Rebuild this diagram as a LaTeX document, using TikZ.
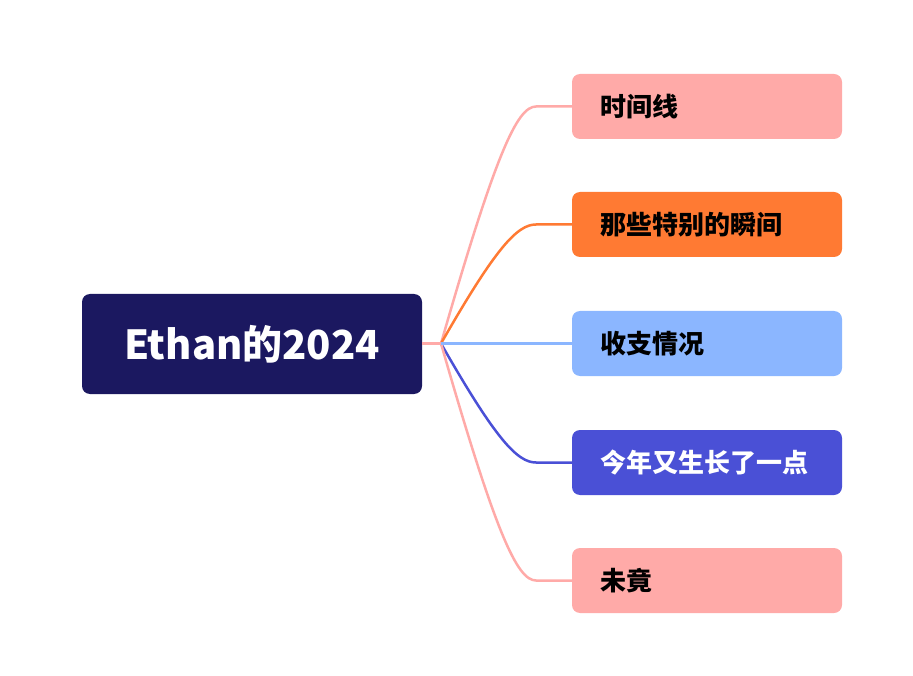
\documentclass[tikz,border=0pt]{standalone}
\usepackage{fontspec}
\setmainfont{Noto Sans CJK SC}
\usetikzlibrary{calc}
\definecolor{navy}{HTML}{1B1860}
\definecolor{pinkc}{HTML}{FFAAA8}
\definecolor{orangec}{HTML}{FF7A33}
\definecolor{bluec}{HTML}{8BB6FF}
\definecolor{indigoc}{HTML}{4A50D6}
\tikzset{
  rootbox/.style={fill=navy, rounded corners=8pt, minimum width=340pt, minimum height=100pt, inner sep=0pt,
    text=white, font=\fontsize{40pt}{46pt}\selectfont\bfseries},
  childbox/.style={rounded corners=8pt, minimum height=65pt, text width=214pt, inner xsep=28pt, inner ysep=0pt,
    align=left, font=\fontsize{26pt}{30pt}\selectfont\bfseries},
  conn/.style={line width=2.5pt},
}
\begin{document}
\begin{tikzpicture}[x=1pt,y=-1pt]
\useasboundingbox (0,0) rectangle (913,676);
\node[rootbox] (root) at (252,344) {Ethan的2024};
\node[childbox, fill=pinkc] (b1) at (707,106.5) {时间线};
\node[childbox, fill=orangec] (b2) at (707,224.5) {那些特别的瞬间};
\node[childbox, fill=bluec] (b3) at (707,343.5) {收支情况};
\node[childbox, fill=indigoc, text=white] (b4) at (707,462.5) {今年又生长了一点};
\node[childbox, fill=pinkc] (b5) at (707,580.5) {未竟};
\coordinate (J) at (441,343.5);
\foreach \i/\c in {1/pinkc,2/orangec,4/indigoc,5/pinkc}{
  \coordinate (C\i) at (509,0 |- b\i.west);
  \coordinate (E\i) at (536,0 |- b\i.west);
  \draw[conn, \c] (J) .. controls ($(J)!0.8!(C\i)$) and ($(C\i)!0.3!(E\i)$) .. (E\i) -- (b\i.west);
}
\draw[conn, bluec] (J) -- (b3.west);
\draw[line width=3pt, pinkc] (root.east |- J) -- (J);
\end{tikzpicture}
\end{document}
